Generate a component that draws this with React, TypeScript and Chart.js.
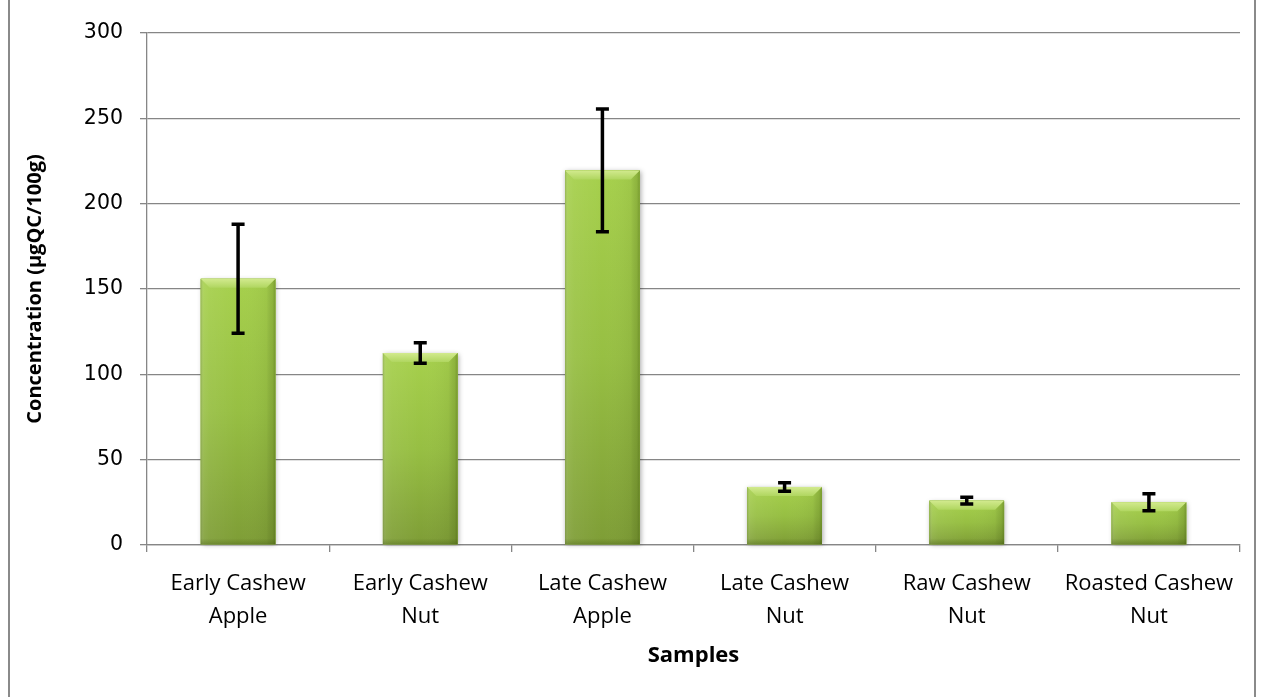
import React, { useEffect, useRef } from "react";
import { Chart, registerables } from "chart.js";

Chart.register(...registerables);

const categories: string[][] = [
  ["Early Cashew", "Apple"],
  ["Early Cashew", "Nut"],
  ["Late Cashew", "Apple"],
  ["Late Cashew", "Nut"],
  ["Raw Cashew", "Nut"],
  ["Roasted Cashew", "Nut"],
];
const concentration: number[] = [156, 112.5, 219.5, 34, 26, 25];
const errorValues: number[] = [32, 6, 36, 2.5, 2, 5];
const yTickValues: number[] = [0, 50, 100, 150, 200, 250, 300];
const xTitle = "Samples";
const yTitle = "Concentration (µgQC/100g)";

const AXIS_GRAY = "#868686";

const bevelPlugin = {
  id: "bevelBars",
  beforeDatasetDraw(chart: any, args: any) {
    const meta = chart.getDatasetMeta(args.index);
    const c: CanvasRenderingContext2D = chart.ctx;
    c.save();
    meta.data.forEach((el: any) => {
      const { x, y, base, width } = el.getProps(["x", "y", "base", "width"], true);
      const l = x - width / 2;
      c.shadowColor = "rgba(0,0,0,0.35)";
      c.shadowBlur = 5;
      c.shadowOffsetX = 1;
      c.shadowOffsetY = 1;
      c.fillStyle = "#98c042";
      c.fillRect(l, y, width, base - y);
    });
    c.restore();
  },
  afterDatasetDraw(chart: any, args: any) {
    const meta = chart.getDatasetMeta(args.index);
    const c: CanvasRenderingContext2D = chart.ctx;
    c.save();
    meta.data.forEach((el: any) => {
      const { x, y, base, width } = el.getProps(["x", "y", "base", "width"], true);
      const l = x - width / 2;
      const r = x + width / 2;
      const h = base - y;
      const g = c.createLinearGradient(0, y, 0, base);
      g.addColorStop(0, "#a6d04c");
      g.addColorStop(0.5, "#97bf43");
      g.addColorStop(1, "#7e9d36");
      c.fillStyle = g;
      c.fillRect(l, y, width, h);
      const hg = c.createLinearGradient(l, 0, r, 0);
      hg.addColorStop(0, "rgba(120,130,100,0.35)");
      hg.addColorStop(0.04, "rgba(255,255,255,0.10)");
      hg.addColorStop(0.12, "rgba(255,255,255,0.06)");
      hg.addColorStop(0.5, "rgba(255,255,255,0)");
      hg.addColorStop(0.88, "rgba(0,0,0,0.04)");
      hg.addColorStop(0.96, "rgba(40,60,0,0.18)");
      hg.addColorStop(1, "rgba(40,60,0,0.35)");
      c.fillStyle = hg;
      c.fillRect(l, y, width, h);
      const bv = Math.min(9, h / 2);
      c.beginPath();
      c.moveTo(l, y);
      c.lineTo(r, y);
      c.lineTo(r - bv, y + bv);
      c.lineTo(l + bv, y + bv);
      c.closePath();
      const tg = c.createLinearGradient(0, y, 0, y + bv);
      tg.addColorStop(0, "#d2ea8e");
      tg.addColorStop(1, "#b0d660");
      c.fillStyle = tg;
      c.fill();
      const bg = c.createLinearGradient(0, base - 6, 0, base);
      bg.addColorStop(0, "rgba(40,60,0,0)");
      bg.addColorStop(1, "rgba(40,60,0,0.25)");
      c.fillStyle = bg;
      c.fillRect(l, base - 6, width, 6);
    });
    c.restore();
  },
};

const errorBarPlugin = {
  id: "errorBars",
  afterDatasetsDraw(chart: any) {
    const meta = chart.getDatasetMeta(0);
    const yScale = chart.scales.y;
    const c: CanvasRenderingContext2D = chart.ctx;
    c.save();
    c.strokeStyle = "#000000";
    c.lineWidth = 3.5;
    c.lineCap = "butt";
    meta.data.forEach((el: any, i: number) => {
      const v = concentration[i];
      const e = errorValues[i];
      const yt = yScale.getPixelForValue(v + e);
      const yb = yScale.getPixelForValue(v - e);
      const x = el.x;
      c.beginPath();
      c.moveTo(x, yt - 1.75);
      c.lineTo(x, yb + 1.75);
      c.moveTo(x - 6.5, yt);
      c.lineTo(x + 6.5, yt);
      c.moveTo(x - 6.5, yb);
      c.lineTo(x + 6.5, yb);
      c.stroke();
    });
    c.restore();
  },
};

export default function App() {
  const canvasRef = useRef<HTMLCanvasElement | null>(null);

  useEffect(() => {
    if (!canvasRef.current) return;
    const chart = new Chart(canvasRef.current, {
      type: "bar",
      data: {
        labels: categories as any,
        datasets: [
          {
            data: concentration,
            backgroundColor: "#98c042",
            borderWidth: 0,
            barPercentage: 0.41,
            categoryPercentage: 1,
          },
        ],
      },
      options: {
        animation: false,
        responsive: false,
        maintainAspectRatio: false,
        layout: { padding: { top: 33, right: 29, bottom: 0, left: 0 } },
        plugins: {
          legend: { display: false },
          tooltip: { enabled: false },
        },
        scales: {
          x: {
            offset: true,
            grid: {
              display: true,
              drawOnChartArea: false,
              drawTicks: true,
              tickLength: 7,
              offset: true,
              color: AXIS_GRAY,
              lineWidth: 1.3,
            },
            border: { display: true, color: AXIS_GRAY, width: 1.3 },
            ticks: {
              color: "#000000",
              font: { family: "'Open Sans'", size: 22, lineHeight: 33 / 22 },
              padding: 15,
              maxRotation: 0,
              minRotation: 0,
              autoSkip: false,
            },
            title: {
              display: true,
              text: xTitle,
              color: "#000000",
              font: { family: "'Open Sans'", size: 22, weight: "bold" },
              padding: { top: 0, bottom: 28 },
            },
            afterFit: (s: any) => {
              s.height = 152;
            },
          },
          y: {
            min: 0,
            max: 300,
            afterBuildTicks: (s: any) => {
              s.ticks = yTickValues.map((v) => ({ value: v }));
            },
            grid: {
              color: AXIS_GRAY,
              lineWidth: 1.3,
              tickLength: 7,
              drawTicks: true,
            },
            border: { display: true, color: AXIS_GRAY, width: 1.3 },
            ticks: {
              color: "#000000",
              font: { family: "'DejaVu Sans'", size: 20.5 },
              padding: 17,
            },
            title: {
              display: true,
              text: yTitle,
              color: "#000000",
              font: { family: "'Open Sans'", size: 20, weight: "bold" },
              padding: { top: 23, bottom: 0 },
            },
            afterFit: (s: any) => {
              s.width = 147;
            },
          },
        },
      } as any,
      plugins: [bevelPlugin, errorBarPlugin],
    });
    return () => chart.destroy();
  }, []);

  return (
    <div
      style={{
        position: "absolute",
        left: 0,
        top: 0,
        width: 1269,
        height: 697,
        background: "#ffffff",
        overflow: "hidden",
      }}
    >
      <canvas
        ref={canvasRef}
        width={1269}
        height={697}
        style={{ position: "absolute", left: 0, top: 0, width: 1269, height: 697 }}
      />
      <div
        style={{
          position: "absolute",
          left: 8,
          top: 0,
          width: 2,
          height: 697,
          background: "#8a8a8a",
        }}
      />
      <div
        style={{
          position: "absolute",
          left: 1254,
          top: 0,
          width: 2,
          height: 697,
          background: "#8a8a8a",
        }}
      />
    </div>
  );
}
